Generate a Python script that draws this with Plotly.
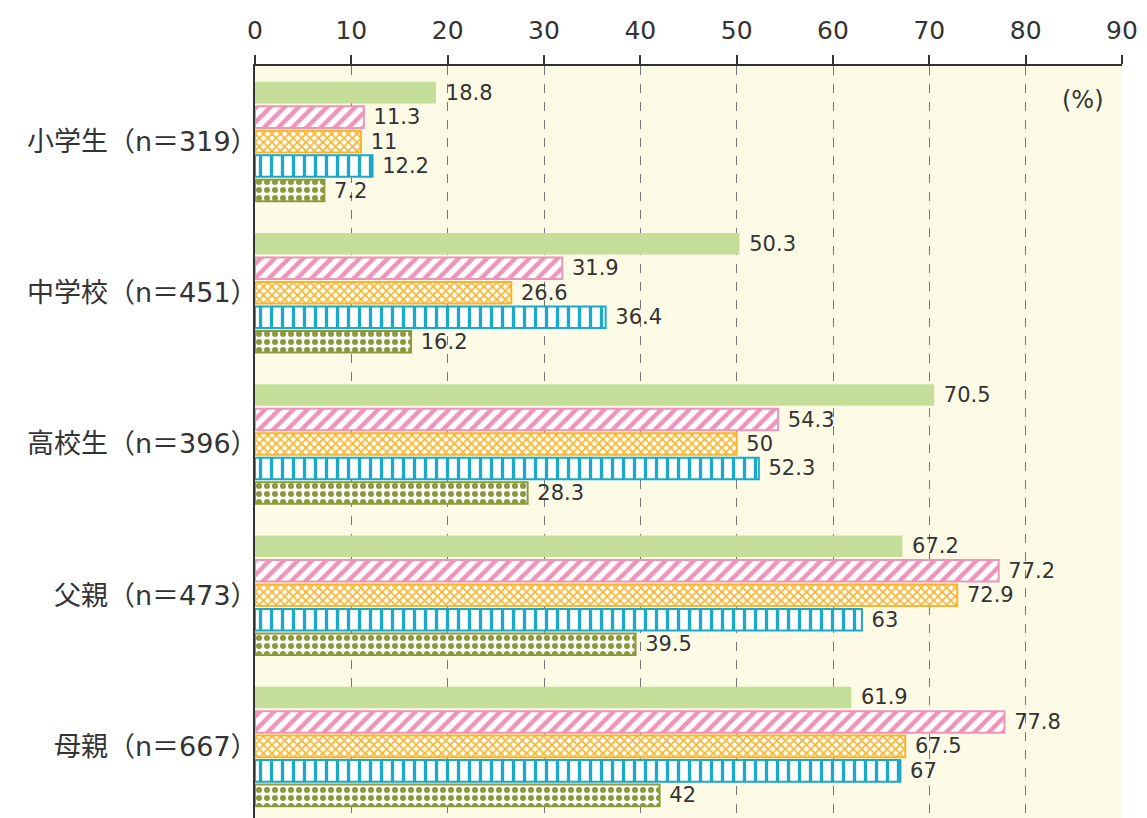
import plotly.graph_objects as go

categories = ["小学生（n＝319）", "中学校（n＝451）", "高校生（n＝396）", "父親（n＝473）", "母親（n＝667）"]
series_names = ["系列1", "系列2", "系列3", "系列4", "系列5"]
s1 = [18.8, 50.3, 70.5, 67.2, 61.9]
s2 = [11.3, 31.9, 54.3, 77.2, 77.8]
s3 = [11, 26.6, 50, 72.9, 67.5]
s4 = [12.2, 36.4, 52.3, 63, 67]
s5 = [7.2, 16.2, 28.3, 39.5, 42]
tick_vals = [0, 10, 20, 30, 40, 50, 60, 70, 80, 90]

values = [s1, s2, s3, s4, s5]
colors = ["#C5DF9B", "#EE93B9", "#F7B52E", "#1AA9C9", "#8C9A3C"]
patterns = [None,
            dict(shape="/", size=10, solidity=0.45),
            dict(shape="x", size=6, solidity=0.5),
            dict(shape="|", size=11, solidity=0.3),
            dict(shape=".", size=8, solidity=0.45)]

FONT = "DejaVu Sans, Noto Sans CJK JP"

fig = go.Figure()
for name, vals, col, pat in zip(series_names, values, colors, patterns):
    if pat is None:
        marker = dict(color=col, line=dict(color=col, width=0))
    else:
        marker = dict(color="white", line=dict(color=col, width=2),
                      pattern=dict(fgcolor=col, bgcolor="white", fillmode="replace", **pat))
    fig.add_trace(go.Bar(
        y=categories, x=vals, name=name, orientation="h", marker=marker,
        text=[f" {v:g}" for v in vals], textposition="outside",
        constraintext="none",
        textfont=dict(size=21, color="#333333", family=FONT),
        cliponaxis=False,
    ))

fig.update_layout(
    width=1147, height=822,
    margin=dict(l=255, r=25, t=66, b=0, autoexpand=False),
    paper_bgcolor="white", plot_bgcolor="#FDFBE6",
    barmode="group", bargap=0.19, bargroupgap=0.12,
    showlegend=False,
    font=dict(family=FONT, color="#333333"),
    xaxis=dict(side="top", range=[0, 90], tickvals=tick_vals, automargin=False,
               showline=True, linecolor="#333333", linewidth=2,
               ticks="outside", ticklen=9, tickwidth=2, tickcolor="#333333",
               ticklabelstandoff=6,
               showgrid=True, gridcolor="#777777", griddash="dash", gridwidth=1,
               tickfont=dict(size=25, color="#333333", family=FONT), zeroline=False),
    yaxis=dict(autorange="reversed", showline=True, linecolor="#333333", linewidth=2,
               automargin=False,
               ticks="", tickfont=dict(size=27, color="#333333", family=FONT),
               ticklabelstandoff=-10, showgrid=False),
    annotations=[dict(text="(%)", x=86, y=1 - 34 / 756,
                      xref="x", yref="paper", yanchor="middle", xanchor="center",
                      showarrow=False, font=dict(size=24, color="#333333", family=FONT))],
)
fig.write_html("out.html", config={"displayModeBar": False},
               post_script="document.body.style.margin='0px';document.body.style.overflow='hidden';")
